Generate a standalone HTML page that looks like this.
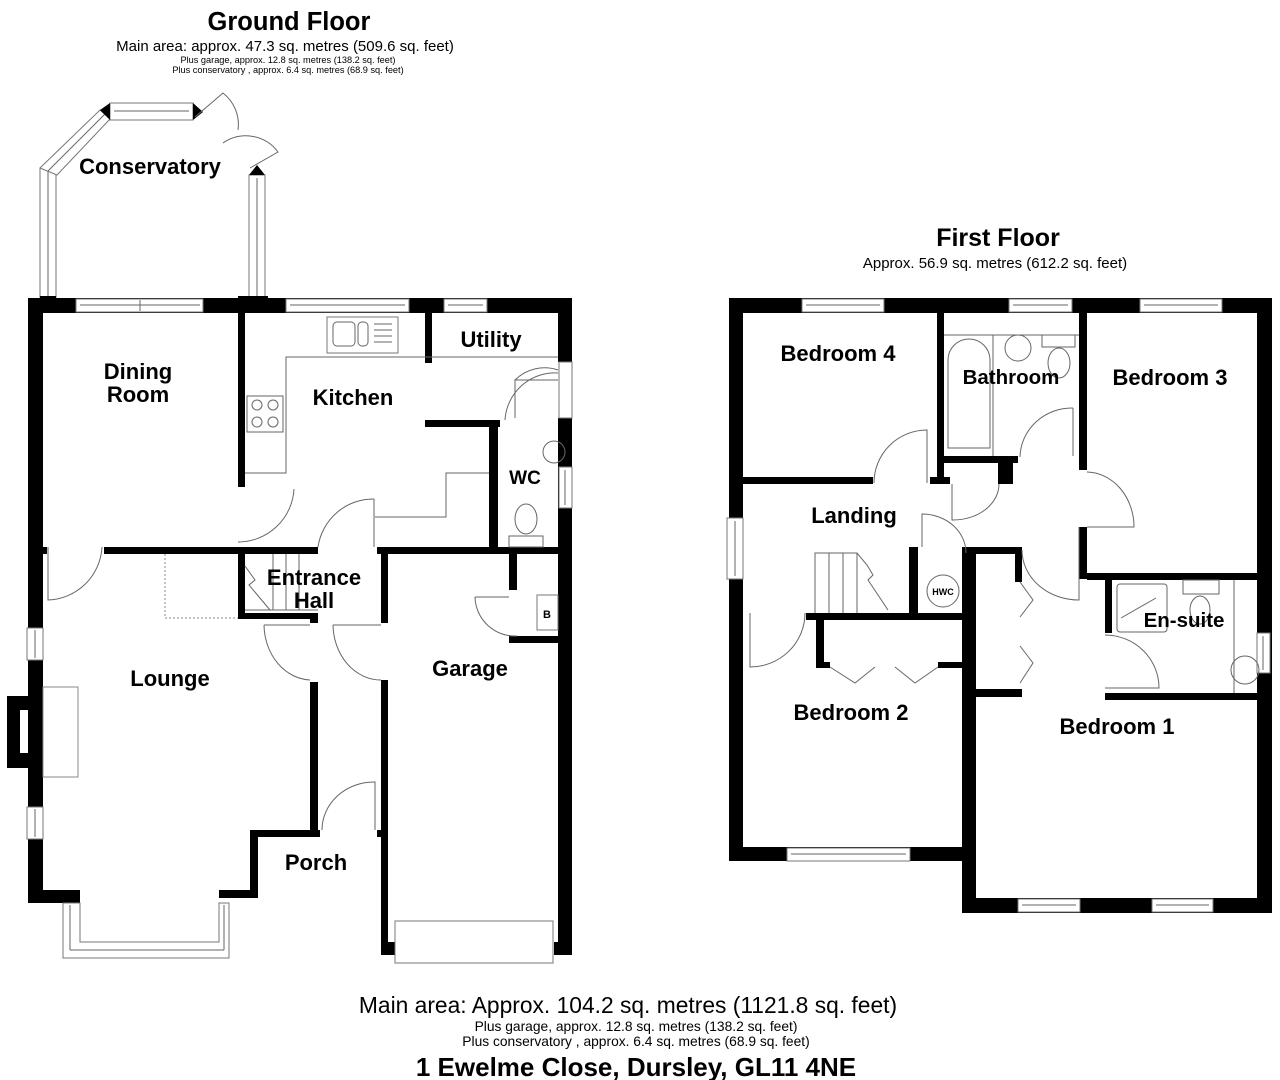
<!DOCTYPE html>
<html><head><meta charset="utf-8"><style>
html,body{margin:0;padding:0;background:#fff;width:1280px;height:1080px;overflow:hidden}
svg{display:block}
.w{fill:#000}
.win{fill:#fff;stroke:#777;stroke-width:1}
.ln{fill:none;stroke:#666;stroke-width:1}
.t{font-family:"Liberation Sans",Arial,sans-serif;font-weight:bold;fill:#000}
.n{font-family:"Liberation Sans",Arial,sans-serif;fill:#000}
</style></head><body>
<svg width="1280" height="1080" viewBox="0 0 1280 1080" xmlns="http://www.w3.org/2000/svg">
<!-- Titles -->
<text class="t" x="289" y="30" font-size="25.5" text-anchor="middle">Ground Floor</text>
<text class="n" x="285" y="51" font-size="15" text-anchor="middle">Main area: approx. 47.3 sq. metres (509.6 sq. feet)</text>
<text class="n" x="288" y="63" font-size="9.2" text-anchor="middle">Plus garage, approx. 12.8 sq. metres (138.2 sq. feet)</text>
<text class="n" x="288" y="73" font-size="9.2" text-anchor="middle">Plus conservatory , approx. 6.4 sq. metres (68.9 sq. feet)</text>
<text class="t" x="998" y="246" font-size="25" text-anchor="middle">First Floor</text>
<text class="n" x="995" y="268" font-size="15" text-anchor="middle">Approx. 56.9 sq. metres (612.2 sq. feet)</text>
<text class="n" x="628" y="1013" font-size="22.8" text-anchor="middle">Main area: Approx. 104.2 sq. metres (1121.8 sq. feet)</text>
<text class="n" x="636" y="1031" font-size="13.8" text-anchor="middle">Plus garage, approx. 12.8 sq. metres (138.2 sq. feet)</text>
<text class="n" x="636" y="1046" font-size="13.8" text-anchor="middle">Plus conservatory , approx. 6.4 sq. metres (68.9 sq. feet)</text>
<text class="t" x="636" y="1076" font-size="26" text-anchor="middle">1 Ewelme Close, Dursley, GL11 4NE</text>

<!-- ===== GROUND FLOOR ===== -->
<rect class="win" x="40" y="168" width="16" height="132"/><line class="ln" x1="48" y1="170" x2="48" y2="298"/>
<polygon class="win" points="40,168 57,175 110,119 100,110"/><line class="ln" x1="48" y1="171" x2="105" y2="114"/>
<rect class="win" x="110" y="103" width="83" height="17"/><line class="ln" x1="114" y1="111" x2="189" y2="111"/>
<polygon class="w" points="100,110 110,103 110,120"/><polygon class="w" points="193,103 203,112 193,120"/>
<rect class="win" x="249" y="175" width="16" height="125"/><line class="ln" x1="257" y1="178" x2="257" y2="298"/>
<polygon class="w" points="249,175 257,165 265,175"/>
<path class="ln" d="M195,117 L223,93 A40,40 0 0 1 238,130"/>
<path class="ln" d="M223,143 A40,40 0 0 1 278,152 L250,168"/>
<text class="t" x="150" y="174" font-size="22" text-anchor="middle">Conservatory</text>
<rect class="w" x="40" y="296" width="16" height="6"/><rect class="w" x="238" y="296" width="30" height="6"/>

<rect class="w" x="28" y="298" width="544" height="15"/>
<rect class="win" x="76" y="299" width="127" height="13"/><line class="ln" x1="140" y1="300" x2="140" y2="311"/><line class="ln" x1="80" y1="305" x2="200" y2="305"/>
<rect class="win" x="286" y="299" width="123" height="13"/><line class="ln" x1="290" y1="305" x2="405" y2="305"/>
<rect class="win" x="444" y="299" width="43" height="13"/><line class="ln" x1="448" y1="305" x2="483" y2="305"/>
<rect class="w" x="28" y="298" width="15" height="605"/>
<rect class="win" x="27" y="628" width="16" height="32"/><line class="ln" x1="35" y1="630" x2="35" y2="658"/>
<rect class="win" x="27" y="807" width="16" height="32"/><line class="ln" x1="35" y1="809" x2="35" y2="837"/>
<rect class="w" x="7" y="696" width="36" height="14"/><rect class="w" x="7" y="753" width="36" height="15"/><rect class="w" x="7" y="696" width="13" height="72"/>
<rect class="win" x="43" y="687" width="35" height="90" style="stroke:#888"/>
<rect class="w" x="28" y="890" width="52" height="13"/>
<polygon class="win" points="63,903 80,903 80,942 219,942 219,903 229,903 229,958 63,958"/>
<line class="ln" x1="70" y1="905" x2="70" y2="950"/><line class="ln" x1="70" y1="950" x2="224" y2="950"/><line class="ln" x1="224" y1="905" x2="224" y2="950"/>
<rect class="w" x="219" y="890" width="37" height="8"/><rect class="w" x="250" y="830" width="8" height="68"/>
<rect class="w" x="250" y="830" width="70" height="7"/><rect class="w" x="310" y="682" width="8" height="155"/>
<rect class="w" x="558" y="298" width="14" height="64"/><rect class="w" x="558" y="418" width="14" height="537"/>
<rect class="win" x="559" y="467" width="13" height="41"/><line class="ln" x1="565" y1="470" x2="565" y2="505"/>
<rect class="win" x="559" y="362" width="13" height="56"/>
<rect class="w" x="381" y="942" width="15" height="13"/><rect class="w" x="554" y="942" width="18" height="13"/>
<rect class="win" x="395" y="921" width="158" height="42"/>
<rect class="w" x="381" y="680" width="7" height="275"/><rect class="w" x="377" y="830" width="11" height="7"/>
<rect class="w" x="381" y="554" width="7" height="69"/>
<rect class="w" x="238" y="313" width="7" height="174"/>
<rect class="w" x="425" y="313" width="7" height="50"/>
<rect class="w" x="425" y="420" width="75" height="7"/><rect class="w" x="489" y="420" width="9" height="127"/>
<rect class="w" x="104" y="547" width="214" height="7"/><rect class="w" x="43" y="547" width="4" height="7"/>
<rect class="w" x="377" y="547" width="181" height="7"/>
<rect class="w" x="238" y="547" width="7" height="71"/><rect class="w" x="238" y="613" width="80" height="6"/><rect class="w" x="310" y="613" width="8" height="10"/>
<rect class="w" x="509" y="554" width="8" height="36"/><rect class="w" x="509" y="636" width="49" height="7"/>
<rect class="win" x="537" y="595" width="21" height="35"/><text class="t" x="547" y="618" font-size="11" text-anchor="middle">B</text>
<path class="ln" d="M245,473 L286,473 L286,357 L558,357"/>
<rect class="win" x="327" y="317" width="71" height="36"/><rect class="ln" x="333" y="322" width="22" height="24" rx="4"/><rect class="ln" x="358" y="322" width="10" height="24" rx="4"/>
<line class="ln" x1="374" y1="324" x2="392" y2="324"/><line class="ln" x1="374" y1="330" x2="392" y2="330"/><line class="ln" x1="374" y1="336" x2="392" y2="336"/><line class="ln" x1="374" y1="342" x2="392" y2="342"/>
<rect class="ln" x="247" y="396" width="36" height="36"/>
<circle class="ln" cx="257" cy="405" r="5"/><circle class="ln" cx="273" cy="405" r="5"/><circle class="ln" cx="257" cy="422" r="5"/><circle class="ln" cx="273" cy="422" r="5"/>
<path class="ln" d="M375,517 L446,517 L446,473 L489,473"/>
<path class="ln" d="M374,499 L374,547"/>
<path class="ln" d="M374,499 A56,56 0 0 0 318,547"/>
<path class="ln" d="M294,489 A56,56 0 0 1 238,542"/>
<path class="ln" d="M48,547 L48,600 A56,56 0 0 0 102,547"/>
<path class="ln" d="M558,373 A50,50 0 0 0 505,420 M515,418 L515,380 L558,380 M558,370 A42,42 0 0 0 515,380"/>
<circle class="ln" cx="554" cy="452" r="11"/>
<ellipse class="ln" cx="526" cy="519" rx="11" ry="15"/><rect class="ln" x="509" y="536" width="34" height="11"/>
<line class="ln" x1="273" y1="554" x2="273" y2="610"/><line class="ln" x1="286" y1="554" x2="286" y2="610"/><line class="ln" x1="299" y1="554" x2="299" y2="610"/><line class="ln" x1="245" y1="610" x2="318" y2="610"/>
<path class="ln" d="M245,566 L255,580 L249,585 L270,610"/>
<path d="M165,554 L165,618 L238,618" fill="none" stroke="#888" stroke-dasharray="2,2"/>
<path class="ln" d="M264,625 A48,56 0 0 0 310,680"/><line class="ln" x1="264" y1="625" x2="310" y2="625"/>
<path class="ln" d="M333,625 A48,56 0 0 0 381,680"/><line class="ln" x1="333" y1="625" x2="381" y2="625"/>
<path class="ln" d="M475,597 A40,40 0 0 0 517,636 M475,597 L509,597"/>
<path class="ln" d="M322,830 A52,48 0 0 1 375,782 L375,830"/>
<text class="t" x="138" y="379" font-size="22" text-anchor="middle">Dining</text>
<text class="t" x="138" y="402" font-size="22" text-anchor="middle">Room</text>
<text class="t" x="353" y="405" font-size="22" text-anchor="middle">Kitchen</text>
<text class="t" x="491" y="347" font-size="22" text-anchor="middle">Utility</text>
<text class="t" x="525" y="484" font-size="19" text-anchor="middle">WC</text>
<text class="t" x="314" y="585" font-size="22" text-anchor="middle">Entrance</text>
<text class="t" x="314" y="608" font-size="22" text-anchor="middle">Hall</text>
<text class="t" x="170" y="686" font-size="22" text-anchor="middle">Lounge</text>
<text class="t" x="470" y="676" font-size="22" text-anchor="middle">Garage</text>
<text class="t" x="316" y="870" font-size="22" text-anchor="middle">Porch</text>

<!-- ===== FIRST FLOOR ===== -->
<rect class="w" x="729" y="298" width="543" height="15"/>
<rect class="win" x="802" y="299" width="82" height="13"/><line class="ln" x1="806" y1="305" x2="880" y2="305"/>
<rect class="win" x="1009" y="299" width="63" height="13"/><line class="ln" x1="1013" y1="305" x2="1068" y2="305"/>
<rect class="win" x="1140" y="299" width="82" height="13"/><line class="ln" x1="1144" y1="305" x2="1218" y2="305"/>
<rect class="w" x="729" y="298" width="14" height="563"/>
<rect class="win" x="727" y="518" width="16" height="61"/><line class="ln" x1="735" y1="521" x2="735" y2="576"/>
<rect class="w" x="729" y="847" width="239" height="14"/>
<rect class="win" x="787" y="848" width="123" height="13"/><line class="ln" x1="791" y1="854" x2="906" y2="854"/>
<rect class="w" x="962" y="547" width="14" height="366"/>
<rect class="w" x="962" y="898" width="310" height="15"/>
<rect class="win" x="1018" y="899" width="62" height="13"/><line class="ln" x1="1022" y1="905" x2="1076" y2="905"/>
<rect class="win" x="1152" y="899" width="61" height="13"/><line class="ln" x1="1156" y1="905" x2="1209" y2="905"/>
<rect class="w" x="1257" y="298" width="15" height="615"/>
<rect class="win" x="1257" y="633" width="13" height="40"/><line class="ln" x1="1263" y1="636" x2="1263" y2="670"/>
<rect class="w" x="937" y="313" width="7" height="171"/>
<rect class="w" x="743" y="477" width="130" height="7"/><rect class="w" x="930" y="477" width="20" height="7"/>
<rect class="w" x="944" y="456" width="74" height="7"/><rect class="w" x="998" y="456" width="15" height="28"/>
<rect class="w" x="1079" y="313" width="8" height="157"/><rect class="w" x="1079" y="527" width="8" height="52"/>
<rect class="w" x="1087" y="573" width="170" height="7"/>
<rect class="w" x="909" y="547" width="9" height="66"/>
<rect class="w" x="964" y="547" width="58" height="7"/><rect class="w" x="1015" y="547" width="7" height="35"/>
<rect class="w" x="806" y="613" width="162" height="7"/>
<rect class="w" x="816" y="620" width="8" height="48"/><rect class="w" x="816" y="662" width="14" height="6"/><rect class="w" x="938" y="662" width="30" height="6"/>
<rect class="w" x="976" y="689" width="46" height="8"/>
<rect class="w" x="1105" y="579" width="7" height="54"/>
<rect class="w" x="1105" y="693" width="152" height="7"/>
<line class="ln" x1="944" y1="335" x2="1079" y2="335"/><line class="ln" x1="993" y1="335" x2="993" y2="456"/>
<path class="ln" d="M948,448 L948,360 A11,11 0 0 1 990,360 L990,448 Z"/>
<circle class="ln" cx="1018" cy="348" r="13"/><rect class="ln" x="1042" y="335" width="33" height="12"/><ellipse class="ln" cx="1059" cy="363" rx="11" ry="15"/>
<path class="ln" d="M1073,408 L1073,456 M1073,408 A52,50 0 0 0 1020,457"/>
<path class="ln" d="M874,483 A53,53 0 0 1 927,430 L927,483"/>
<path class="ln" d="M952,484 L952,520 A46,36 0 0 0 999,484"/>
<path class="ln" d="M1087,472 A48,55 0 0 1 1134,527 L1087,527"/>
<path class="ln" d="M1022,550 A57,50 0 0 0 1079,600 L1079,527"/>
<path class="ln" d="M922,547 L922,514 A44,39 0 0 1 966,553"/>
<circle class="ln" cx="943" cy="591" r="16"/><text class="t" x="943" y="595" font-size="9" text-anchor="middle">HWC</text>
<path class="ln" d="M815,613 L815,553 L857,553 L867,565 L873,575 L868,580 L888,610"/>
<line class="ln" x1="829" y1="553" x2="829" y2="613"/><line class="ln" x1="843" y1="553" x2="843" y2="613"/><line class="ln" x1="857" y1="553" x2="857" y2="613"/>
<path class="ln" d="M750,613 L750,667 A55,54 0 0 0 805,613"/>
<path class="ln" d="M830,667 L855,683 L875,667 M895,667 L915,683 L938,667"/>
<path class="ln" d="M1020,582 L1033,600 L1020,617 M1020,646 L1033,663 L1020,683"/>
<rect class="ln" x="1117" y="584" width="50" height="48" rx="3"/><line class="ln" x1="1121" y1="618" x2="1156" y2="598"/>
<rect class="ln" x="1183" y="580" width="36" height="14"/><ellipse class="ln" cx="1200" cy="610" rx="10" ry="14"/>
<line class="ln" x1="1234" y1="580" x2="1234" y2="693"/><circle class="ln" cx="1245" cy="670" r="14"/>
<path class="ln" d="M1105,635 A54,53 0 0 1 1159,688 L1105,688"/>
<text class="t" x="838" y="361" font-size="22" text-anchor="middle">Bedroom 4</text>
<text class="t" x="1011" y="384" font-size="20.5" text-anchor="middle">Bathroom</text>
<text class="t" x="1170" y="385" font-size="22" text-anchor="middle">Bedroom 3</text>
<text class="t" x="854" y="523" font-size="22" text-anchor="middle">Landing</text>
<text class="t" x="1184" y="627" font-size="20.5" text-anchor="middle">En-suite</text>
<text class="t" x="851" y="720" font-size="22" text-anchor="middle">Bedroom 2</text>
<text class="t" x="1117" y="734" font-size="22" text-anchor="middle">Bedroom 1</text>
</svg>
</body></html>
